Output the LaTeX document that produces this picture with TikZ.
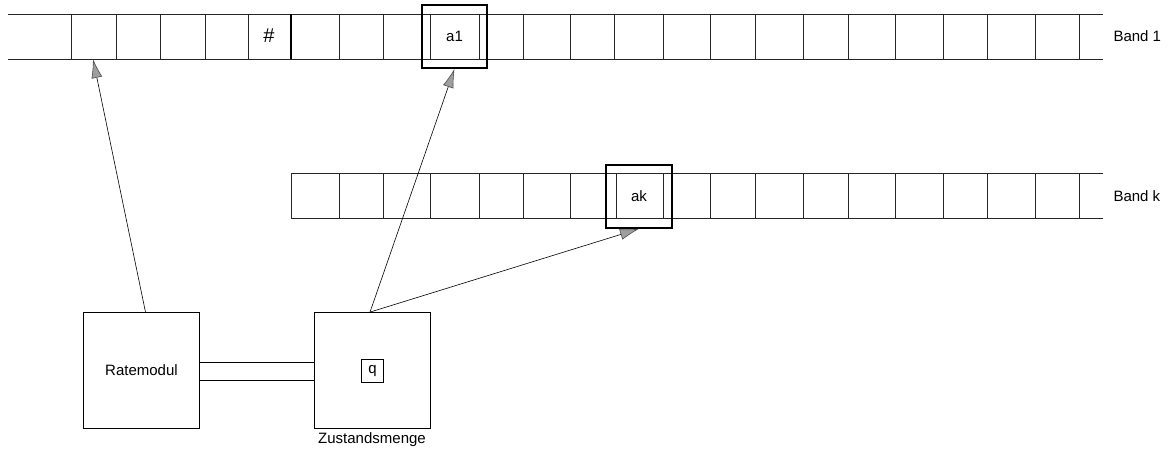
\documentclass[tikz,border=0pt]{standalone}
\usepackage{fontspec}
\setmainfont{Liberation Sans}
\usetikzlibrary{arrows.meta}

\tikzset{
	zelle/.style={draw=black!85, line width=0.8pt},
	kopf/.style={draw, line width=1.6pt, minimum width=65pt, minimum height=63pt, inner sep=0pt},
	modul/.style={draw, line width=0.8pt, minimum width=116pt, minimum height=116pt, inner sep=0pt},
	pfeil/.style={line width=0.6pt, -{Latex[length=19pt, width=11pt, fill=gray!75, color=black!70]}}
}

\begin{document}
\begin{tikzpicture}[x=1pt, y=-1pt, font=\fontsize{15}{18}\selectfont]
			\useasboundingbox (0,0) rectangle (1172,453);
			
			%Band 1
			\draw[zelle] (8,14) -- (1103,14);
			\draw[zelle] (8,59) -- (1103,59);
			\foreach \x in {71,116,160,205,248,339,383,430,479,523,570,614,663,710,755,803,848,895,943,987,1035,1079}
				\draw[zelle] (\x,14) -- (\x,59);
			\draw[line width=2.2pt] (291,14) -- (291,59);
			\node[font=\fontsize{20}{24}\selectfont] (raute) at (269,36) {\#};
			\node[right] (band1) at (1110,36) {Band 1};
			\coordinate (feld0) at (93,59);
			
			%Band k
			\draw[zelle] (291,173) -- (1103,173);
			\draw[zelle] (291,218) -- (1103,218);
			\foreach \x in {291,339,383,430,479,523,570,616,663,710,755,803,848,895,943,987,1035,1079}
				\draw[zelle] (\x,173) -- (\x,218);
			\node[right] (bandk) at (1110,196) {Band k};
			
			%Koepfe
			\node[kopf] (a1) at (454.5,36.5) {a1};
			\node[kopf, minimum width=66pt] (ak) at (639,196.5) {ak};
			
			%Module
			\node[modul] (rate) at (141.5,370.5) {Ratemodul};
			\node[modul] (zust) at (372,370.5) {};
			\node[draw, line width=0.8pt, minimum width=22pt, minimum height=23pt, inner sep=1pt] (q) at (372.5,371) {q};
			\node[below] (zlabel) at (zust.south) {Zustandsmenge};
			
			%Lines
			\draw[line width=0.8pt] ([yshift=8pt]rate.east) -- ([yshift=8pt]zust.west);
			\draw[line width=0.8pt] ([yshift=-10pt]rate.east) -- ([yshift=-10pt]zust.west);
			\draw[pfeil] ([xshift=4pt]rate.north) -- (feld0);
			\draw[pfeil] ([xshift=-2pt]zust.north) -- (a1.south);
			\draw[pfeil] ([xshift=-2pt]zust.north) -- (ak.south);
\end{tikzpicture}
\end{document}
